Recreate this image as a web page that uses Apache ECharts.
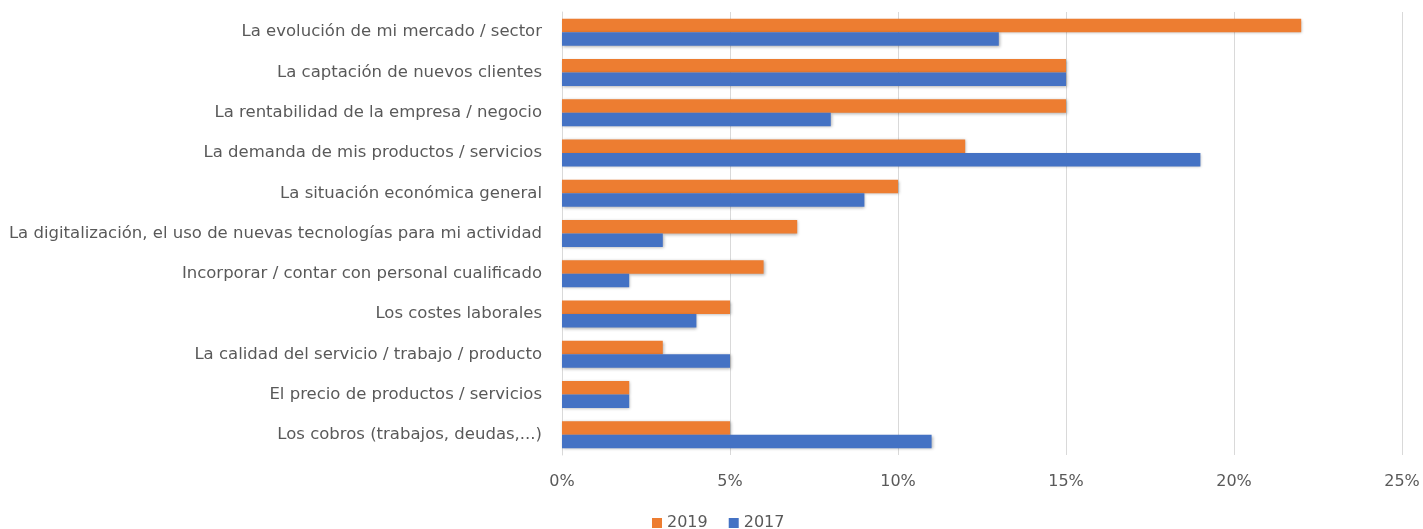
<!DOCTYPE html>
<html>
<head>
<meta charset="utf-8">
<script src="https://cdn.jsdelivr.net/npm/echarts@6/dist/echarts.min.js"></script>
<style>html,body{margin:0;padding:0;background:#fff}#c{width:1423px;height:529px}</style>
</head>
<body>
<div id="c"></div>
<script>
const categories = [
  "La evolución de mi mercado / sector",
  "La captación de nuevos clientes",
  "La rentabilidad de la empresa / negocio",
  "La demanda de mis productos / servicios",
  "La situación económica general",
  "La digitalización, el uso de nuevas tecnologías para mi actividad",
  "Incorporar / contar con personal cualificado",
  "Los costes laborales",
  "La calidad del servicio / trabajo / producto",
  "El precio de productos / servicios",
  "Los cobros (trabajos, deudas,...)"
];
const values2019 = [22, 15, 15, 12, 10, 7, 6, 5, 3, 2, 5];
const values2017 = [13, 15, 8, 19, 9, 3, 2, 4, 5, 2, 11];
const xTicks = [0, 5, 10, 15, 20, 25];

const chart = echarts.init(document.getElementById('c'), null, {renderer: 'canvas'});
const font = "'DejaVu Sans', sans-serif";
const shadow = {shadowColor: 'rgba(0,0,0,0.3)', shadowBlur: 3, shadowOffsetX: 1, shadowOffsetY: 1};
chart.setOption({
  animation: false,
  textStyle: {fontFamily: font},
  grid: {left: 562, right: 21, top: 12, bottom: 74, containLabel: false},
  legend: {
    bottom: -2, left: 652, itemWidth: 10, itemHeight: 10, itemGap: 21, padding: 0,
    icon: 'rect',
    textStyle: {fontSize: 16, color: '#595959', fontFamily: font},
    data: ['2019', '2017']
  },
  xAxis: {
    type: 'value', min: xTicks[0], max: xTicks[xTicks.length - 1], interval: 5,
    axisLine: {show: false}, axisTick: {show: false},
    splitLine: {lineStyle: {color: '#d9d9d9', width: 1}},
    axisLabel: {formatter: '{value}%', fontSize: 16, color: '#595959', margin: 19, fontFamily: font}
  },
  yAxis: {
    type: 'category', data: categories, inverse: true,
    axisLine: {show: true, lineStyle: {color: '#d9d9d9'}}, axisTick: {show: false},
    axisLabel: {fontSize: 16.5, color: '#595959', margin: 20, fontFamily: font}
  },
  series: [
    {name: '2019', type: 'bar', data: values2019, barWidth: 13.5, barGap: '0%',
     itemStyle: Object.assign({color: '#ED7D31'}, shadow)},
    {name: '2017', type: 'bar', data: values2017, barWidth: 13.5, barGap: '0%',
     itemStyle: Object.assign({color: '#4472C4'}, shadow)}
  ]
});
</script>
</body>
</html>
